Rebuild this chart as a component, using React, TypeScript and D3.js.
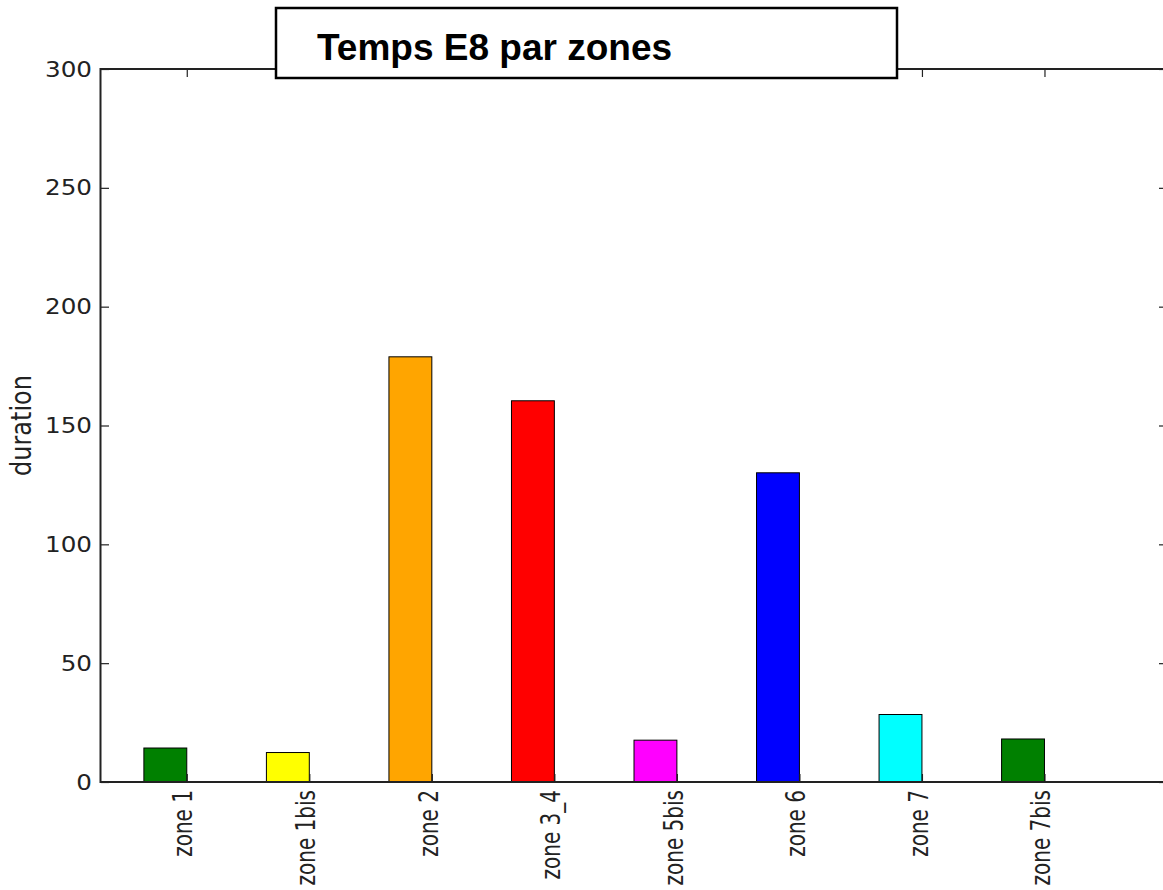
import React, { useRef, useEffect } from 'react';
import * as d3 from 'd3';

const zones: string[] = ['zone 1', 'zone 1bis', 'zone 2', 'zone 3_4', 'zone 5bis', 'zone 6', 'zone 7', 'zone 7bis'];
const durations: number[] = [14.3, 12.4, 178.9, 160.4, 17.6, 130.1, 28.4, 18.1];
const barColors: string[] = ['#008000', '#ffff00', '#ffa500', '#ff0000', '#ff00ff', '#0000ff', '#00ffff', '#008000'];
const yTicks: number[] = [0, 50, 100, 150, 200, 250, 300];

const BarChart: React.FC = () => {
  const svgRef = useRef<SVGSVGElement | null>(null);

  useEffect(() => {
    if (!svgRef.current) return;
    const svg = d3.select(svgRef.current);
    svg.selectAll('*').remove();

    const left = 101, right = 1167, top = 69, bottom = 782;
    const barWidth = 0.35;
    const tickLen = 8;

    const x = d3.scaleLinear().domain([-0.35, 8.35]).range([left, right]);
    const y = d3.scaleLinear().domain([0, 300]).range([bottom, top]);

    // bars (matplotlib style: left edge at index)
    svg.append('g')
      .selectAll('rect')
      .data(durations)
      .join('rect')
      .attr('x', (d, i) => x(i))
      .attr('width', x(barWidth) - x(0))
      .attr('y', d => y(d))
      .attr('height', d => y(0) - y(d))
      .attr('fill', (d, i) => barColors[i])
      .attr('stroke', '#000')
      .attr('stroke-width', 1);

    const tickPos = zones.map((z, i) => i + barWidth);

    // left y axis (ticks inward)
    const yAxis = svg.append('g')
      .attr('transform', `translate(${left},0)`)
      .call(d3.axisLeft(y).tickValues(yTicks).tickSizeInner(-tickLen).tickSizeOuter(0).tickPadding(9));
    yAxis.select('.domain').remove();
    yAxis.selectAll('line').attr('stroke', '#222').attr('stroke-width', 1.2);
    yAxis.selectAll('text')
      .attr('x', 0)
      .attr('transform', 'translate(-9,0) scale(1.12,1)')
      .attr('font-family', 'DejaVu Sans')
      .attr('font-size', 22)
      .attr('fill', '#222');

    // right y axis ticks
    const yAxisR = svg.append('g')
      .attr('transform', `translate(${right},0)`)
      .call(d3.axisRight(y).tickValues(yTicks).tickSizeInner(-tickLen).tickSizeOuter(0).tickFormat(() => ''));
    yAxisR.select('.domain').remove();
    yAxisR.selectAll('line').attr('stroke', '#222').attr('stroke-width', 1.2);

    // top x ticks
    const xTop = svg.append('g')
      .attr('transform', `translate(0,${top})`)
      .call(d3.axisTop(x).tickValues(tickPos).tickSizeInner(-tickLen).tickSizeOuter(0).tickFormat(() => ''));
    xTop.select('.domain').remove();
    xTop.selectAll('line').attr('stroke', '#222').attr('stroke-width', 1.2);

    // bottom x axis with rotated labels
    const xBottom = svg.append('g')
      .attr('transform', `translate(0,${bottom})`)
      .call(d3.axisBottom(x).tickValues(tickPos).tickSizeInner(-tickLen).tickSizeOuter(0)
        .tickFormat((d, i) => zones[i]));
    xBottom.select('.domain').remove();
    xBottom.selectAll('line').attr('stroke', '#222').attr('stroke-width', 1.2);
    xBottom.selectAll('text')
      .attr('x', 0)
      .attr('y', 0)
      .attr('dy', '0.2em')
      .attr('transform', 'translate(0,8) scale(1.3,1) rotate(-90)')
      .style('text-anchor', 'end')
      .attr('font-family', 'DejaVu Sans')
      .attr('font-size', 20)
      .attr('fill', '#222');

    // spines
    svg.append('rect')
      .attr('x', left - 0.5)
      .attr('y', top)
      .attr('width', right - left)
      .attr('height', bottom - top)
      .attr('fill', 'none')
      .attr('stroke', '#222')
      .attr('stroke-width', 2);

    // y label
    svg.append('text')
      .attr('transform', `translate(31,${(top + bottom) / 2}) scale(1.15,1) rotate(-90)`)
      .attr('text-anchor', 'middle')
      .attr('font-family', 'DejaVu Sans')
      .attr('font-size', 24)
      .attr('fill', '#222')
      .text('duration');

    // title box
    svg.append('rect')
      .attr('x', 276)
      .attr('y', 8)
      .attr('width', 621)
      .attr('height', 70)
      .attr('fill', '#fff')
      .attr('stroke', '#000')
      .attr('stroke-width', 2.5);

    svg.append('text')
      .attr('x', 317)
      .attr('y', 60)
      .attr('font-family', 'Liberation Sans, Arial, sans-serif')
      .attr('font-weight', 'bold')
      .attr('font-size', 37)
      .attr('fill', '#000')
      .text('Temps E8 par zones');
  }, []);

  return (
    <svg ref={svgRef} width={1163} height={890}
      style={{ position: 'absolute', left: 0, top: 0, display: 'block', background: '#fff' }} />
  );
};

export default function App() {
  return <BarChart />;
}
